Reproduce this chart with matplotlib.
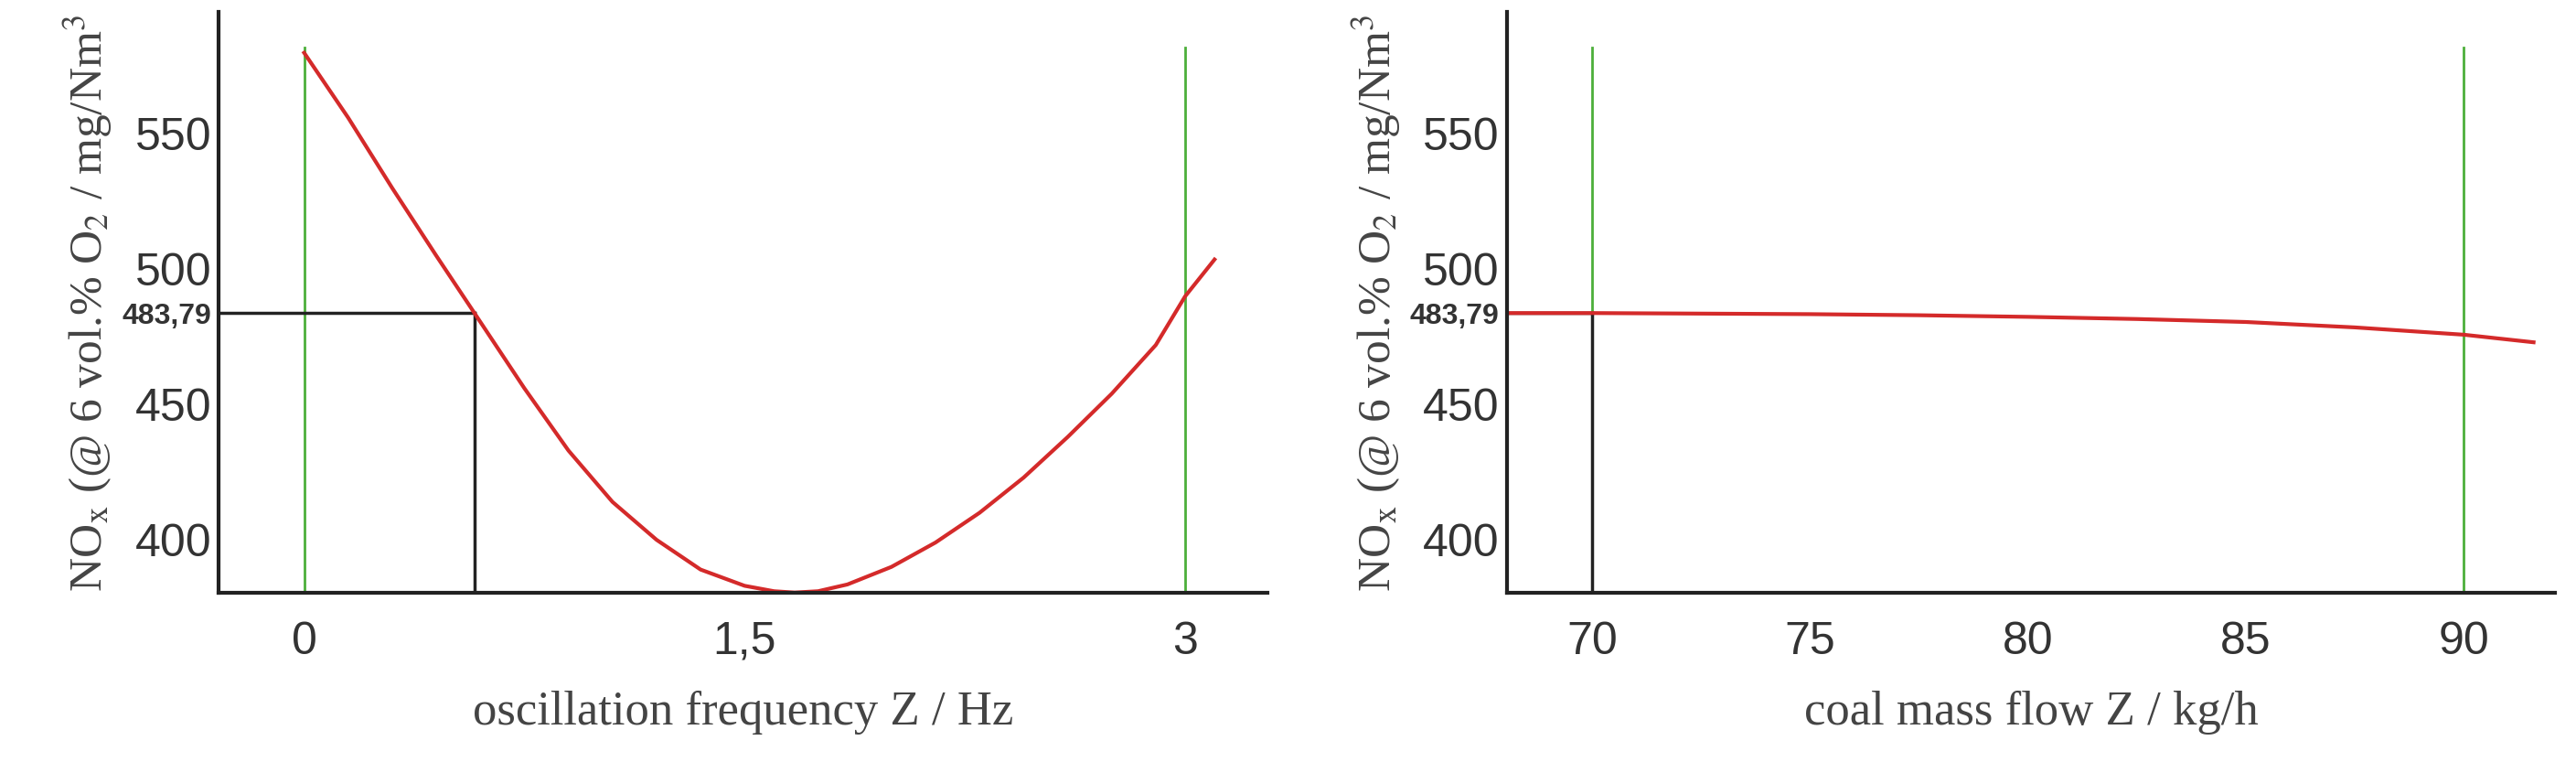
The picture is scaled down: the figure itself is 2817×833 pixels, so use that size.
import matplotlib
matplotlib.use("Agg")
import matplotlib.pyplot as plt

plt.rcParams['mathtext.fontset'] = 'stix'

freq = [0, 0.15, 0.3, 0.45, 0.58, 0.75, 0.9, 1.05, 1.2, 1.35, 1.5, 1.6, 1.67, 1.75, 1.85, 2.0, 2.15, 2.3, 2.45, 2.6, 2.75, 2.9, 3.0, 3.1]
nox_freq = [580, 556, 530, 505, 483.8, 456, 433, 414, 400, 389, 383, 381, 380.5, 381, 383.5, 390, 399, 410, 423, 438, 454, 472, 490, 503.6]
flow = [68.05, 70, 72.5, 75, 77.5, 80, 82.5, 85, 87.5, 90, 91.6]
nox_flow = [483.8, 483.8, 483.6, 483.4, 483.0, 482.4, 481.6, 480.5, 478.5, 475.8, 473]
opt_freq, opt_flow, opt_val = 0.58, 70, 483.79
green_freq = [0, 3]
green_flow = [70, 90]
yticks = [400, 450, 500, 550]

fig = plt.figure(figsize=(28.17, 8.33), dpi=100)
axes = [fig.add_axes([0.085, 0.222, 0.407, 0.762]), fig.add_axes([0.585, 0.222, 0.407, 0.762])]
ylab = r"NO$_\mathrm{x}$ (@ 6 vol.% O$_2$ / mg/Nm$^3$"
specs = [
    (axes[0], freq, nox_freq, green_freq, opt_freq, (-0.29, 3.28), [0, 1.5, 3], ["0", "1,5", "3"], "oscillation frequency Z / Hz"),
    (axes[1], flow, nox_flow, green_flow, opt_flow, (68.05, 92.1), [70, 75, 80, 85, 90], ["70", "75", "80", "85", "90"], "coal mass flow Z / kg/h"),
]
for ax, x, y, g, opt, xl, xt, xtl, xlab in specs:
    ax.set_xlim(*xl)
    ax.set_ylim(380.4, 595)
    for gx in g:
        ax.plot([gx, gx], [380.4, 582], color="#4caf3a", lw=2)
    ax.plot([xl[0], opt], [opt_val, opt_val], color="#222222", lw=2.5)
    ax.plot([opt, opt], [380.4, opt_val], color="#222222", lw=2.5)
    ax.plot(x, y, color="#d42a2a", lw=3)
    for s in ["top", "right"]:
        ax.spines[s].set_visible(False)
    for s in ["left", "bottom"]:
        ax.spines[s].set_linewidth(3)
        ax.spines[s].set_color("#222222")
    ax.set_yticks(yticks + [opt_val])
    ax.set_yticklabels([str(v) for v in yticks] + ["483,79"], family="Liberation Sans", fontsize=36, color="#333333")
    ax.get_yticklabels()[-1].set_fontsize(23)
    ax.get_yticklabels()[-1].set_fontweight("bold")
    ax.set_xticks(xt)
    ax.set_xticklabels(xtl, family="Liberation Sans", fontsize=36, color="#333333")
    ax.tick_params(length=0, pad=22)
    ax.tick_params(axis="y", pad=6)
    ax.set_xlabel(xlab, family="Liberation Serif", fontsize=38, color="#444444", labelpad=22)
    ax.set_ylabel(ylab, family="Liberation Serif", fontsize=37, color="#444444", labelpad=6)

fig.savefig("out.png", dpi=100)
